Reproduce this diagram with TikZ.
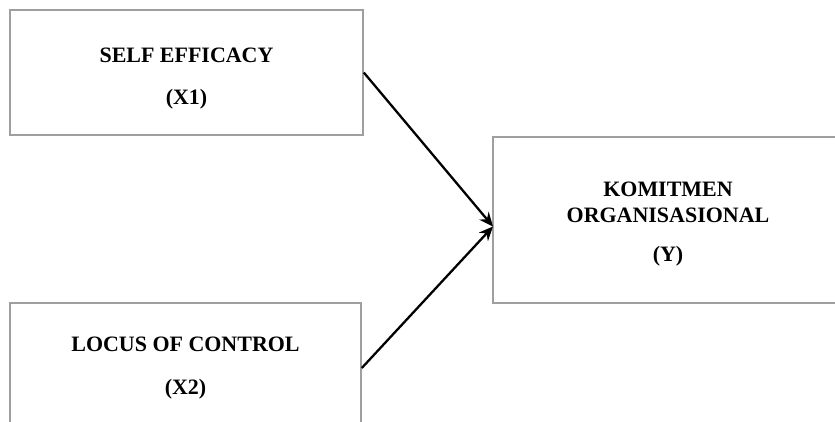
\documentclass[tikz,border=0pt]{standalone}
\usepackage{fontspec}
\setmainfont{Liberation Serif}
\usepackage{tikz}
\usetikzlibrary{arrows.meta}
\tikzstyle{varbox}=[draw=gray!75, line width=0.9pt, fill=white, align=center, font=\fontsize{12.5}{14.7}\selectfont\bfseries]
\tikzstyle{path}=[-{Stealth[length=8pt,width=7pt]}, line width=1.3pt, black]
\newcommand{\topgap}[1]{\rule{0pt}{#1}}

\begin{document}
\begin{tikzpicture}
	\useasboundingbox (0,0) rectangle (16.7,-8.42);
	\clip (0,0) rectangle (16.7,-8.42);
	\node[varbox, minimum width=7.06cm, minimum height=2.5cm] (selfeff) at (3.73,-1.45) {\topgap{15pt}SELF EFFICACY\\[9.5pt](X1)};
	\node[varbox, minimum width=7.02cm, minimum height=2.61cm] (locus) at (3.71,-7.36) {LOCUS OF CONTROL\\[9.5pt](X2)};
	\node[varbox, minimum width=7.0cm, minimum height=3.32cm] (komit) at (13.36,-4.4) {\topgap{12.8pt}KOMITMEN\\ORGANISASIONAL\\[7.5pt](Y)};
	\coordinate (meet) at (9.86,-4.53);
	\draw[path] (selfeff.east) -- (meet);
	\draw[path] (locus.east) -- (meet);
\end{tikzpicture}
\end{document}
